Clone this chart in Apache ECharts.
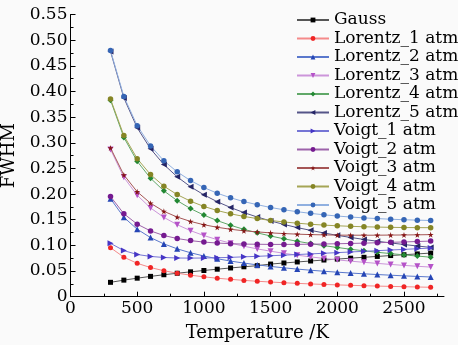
<!DOCTYPE html>
<html>
<head>
<meta charset="utf-8">
<script src="https://cdn.jsdelivr.net/npm/echarts@6/dist/echarts.min.js"></script>
<style>
html,body{margin:0;padding:0;background:#fafafa;}
#c{width:458px;height:345px;}
</style>
</head>
<body>
<div id="c"></div>
<script>
var temperatures = [300,400,500,600,700,800,900,1000,1100,1200,1300,1400,1500,1600,1700,1800,1900,2000,2100,2200,2300,2400,2500,2600,2700];

var gauss = [0.028,0.0323,0.0361,0.0396,0.0428,0.0457,0.0485,0.0511,0.0536,0.056,0.0583,0.0605,0.0636,0.0657,0.0677,0.0696,0.0715,0.0733,0.0751,0.0768,0.0785,0.0802,0.0818,0.0834,0.085];
var lorentz1 = [0.0955,0.077,0.0651,0.0568,0.0506,0.0458,0.0419,0.0387,0.036,0.0338,0.0318,0.0301,0.0286,0.0272,0.026,0.0249,0.0239,0.023,0.0222,0.0214,0.0207,0.0201,0.0195,0.0189,0.0184];
var lorentz2 = [0.191,0.1548,0.1315,0.1152,0.1029,0.0933,0.0856,0.0793,0.074,0.0694,0.0655,0.062,0.059,0.0563,0.0538,0.0516,0.0496,0.0478,0.0461,0.0446,0.0432,0.0419,0.0406,0.0395,0.0384];
var lorentz3 = [0.287,0.2326,0.1977,0.173,0.1546,0.1403,0.1287,0.1192,0.1112,0.1043,0.0984,0.0932,0.0887,0.0846,0.0809,0.0776,0.0746,0.0718,0.0693,0.067,0.0649,0.0629,0.061,0.0593,0.0577];
var lorentz4 = [0.383,0.3105,0.2638,0.2309,0.2063,0.1872,0.1717,0.159,0.1483,0.1392,0.1313,0.1244,0.1183,0.1128,0.108,0.1036,0.0995,0.0959,0.0925,0.0894,0.0866,0.084,0.0815,0.0792,0.077];
var lorentz5 = [0.478,0.3875,0.3292,0.2882,0.2575,0.2336,0.2143,0.1985,0.1851,0.1738,0.1639,0.1553,0.1477,0.1408,0.1347,0.1293,0.1242,0.1196,0.1155,0.1116,0.1081,0.1048,0.1017,0.0988,0.0961];
var voigt1 = [0.104,0.0898,0.0823,0.0785,0.0764,0.0754,0.0752,0.0754,0.0759,0.0767,0.0777,0.0787,0.0798,0.081,0.0822,0.0834,0.0847,0.0859,0.0872,0.0884,0.0897,0.091,0.0922,0.0935,0.0948];
var voigt2 = [0.1953,0.1617,0.1414,0.1282,0.1192,0.1134,0.1093,0.1064,0.1046,0.1033,0.1025,0.1022,0.1019,0.1019,0.102,0.1023,0.1027,0.1032,0.1038,0.1044,0.1052,0.106,0.1067,0.1076,0.1084];
var voigt3 = [0.2899,0.2373,0.2045,0.1822,0.1664,0.1552,0.1467,0.1402,0.1353,0.1314,0.1284,0.1263,0.1244,0.123,0.1219,0.121,0.1205,0.12,0.1199,0.1198,0.1199,0.1201,0.1203,0.1206,0.121];
var voigt4 = [0.3852,0.3141,0.269,0.238,0.2154,0.199,0.1861,0.1759,0.168,0.1616,0.1564,0.1522,0.1486,0.1456,0.1433,0.1412,0.1395,0.1382,0.1372,0.1363,0.1357,0.1352,0.1348,0.1346,0.1345];
var voigt5 = [0.4798,0.3904,0.3334,0.2939,0.2649,0.2433,0.2263,0.2127,0.2017,0.1928,0.1853,0.1793,0.1739,0.1694,0.1656,0.1624,0.1596,0.1572,0.1553,0.1536,0.1522,0.151,0.15,0.1492,0.1485];

var seriesNames = ['Gauss','Lorentz_1 atm','Lorentz_2 atm','Lorentz_3 atm','Lorentz_4 atm','Lorentz_5 atm','Voigt_1 atm','Voigt_2 atm','Voigt_3 atm','Voigt_4 atm','Voigt_5 atm'];
var xMajorTicks = [0,500,1000,1500,2000,2500];
var xMinorTicks = [250,750,1250,1750,2250,2750];

var STAR = 'path://M50,0 L61,35 L98,35 L68,57 L79,91 L50,70 L21,91 L32,57 L2,35 L39,35 Z';
var styles = [
  {data: gauss,    mk:'#000000', ln:'#555555', sym:'rect', rot:0, size:5},
  {data: lorentz1, mk:'#f02525', ln:'#f58a8a', sym:'circle', rot:0, size:5},
  {data: lorentz2, mk:'#2545b5', ln:'#5a78cc', sym:'triangle', rot:0, size:6},
  {data: lorentz3, mk:'#b552c8', ln:'#cc95da', sym:'triangle', rot:180, size:6},
  {data: lorentz4, mk:'#228833', ln:'#60a868', sym:'diamond', rot:0, size:6},
  {data: lorentz5, mk:'#252566', ln:'#555588', sym:'triangle', rot:90, size:6},
  {data: voigt1,   mk:'#4535c5', ln:'#7575d5', sym:'triangle', rot:-90, size:6},
  {data: voigt2,   mk:'#751a90', ln:'#9d62aa', sym:'circle', rot:0, size:5.5},
  {data: voigt3,   mk:'#851515', ln:'#a55555', sym:STAR, rot:0, size:6},
  {data: voigt4,   mk:'#858525', ln:'#a5a555', sym:'circle', rot:0, size:5.5},
  {data: voigt5,   mk:'#3565b5', ln:'#90b0e0', sym:'circle', rot:0, size:5.5}
];

var FONT = 'DejaVu Serif';
var series = styles.map(function(s, i){
  return {
    name: seriesNames[i],
    type: 'line',
    xAxisIndex: 0,
    data: temperatures.map(function(t, k){ return [t, s.data[k]]; }),
    symbol: s.sym,
    symbolRotate: s.rot,
    symbolSize: s.size,
    showAllSymbol: true,
    lineStyle: {color: s.ln, width: 1},
    itemStyle: {color: s.mk},
    emphasis: {disabled: true},
    animation: false
  };
});

var chart = echarts.init(document.getElementById('c'), null, {renderer: 'canvas'});
chart.setOption({
  backgroundColor: '#fafafa',
  animation: false,
  grid: {left: 70.5, right: 14, top: 14.5, bottom: 48.3, containLabel: false, outerBoundsMode: 'none'},
  legend: {
    data: seriesNames,
    orient: 'vertical',
    left: 291,
    top: 6,
    itemWidth: 32,
    itemHeight: 6,
    itemGap: 0.5,
    textStyle: {fontFamily: FONT, fontSize: 17, color: '#000', lineHeight: 18},
    selectedMode: false
  },
  xAxis: [{
    type: 'value', min: 0, max: 2800, interval: 500,
    name: 'Temperature /K', nameLocation: 'middle', nameGap: 28,
    nameTextStyle: {fontFamily: FONT, fontSize: 18, color: '#000'},
    axisLine: {show: true, lineStyle: {color: '#000', width: 1}},
    axisTick: {show: true, inside: true, length: 5, customValues: xMajorTicks, lineStyle: {color: '#000'}},
    axisLabel: {customValues: xMajorTicks, fontFamily: FONT, fontSize: 17, color: '#000', margin: 3,
      formatter: function(v){ return String(v); }},
    splitLine: {show: false}
  }, {
    type: 'value', min: 0, max: 2800, position: 'bottom',
    axisLine: {show: false},
    axisTick: {show: true, inside: true, length: 3, customValues: xMinorTicks, lineStyle: {color: '#000'}},
    axisLabel: {show: false},
    splitLine: {show: false}
  }],
  yAxis: {
    type: 'value', min: 0, max: 0.55, interval: 0.05,
    name: 'FWHM', nameLocation: 'middle', nameGap: 42,
    nameTextStyle: {fontFamily: FONT, fontSize: 18, color: '#000'},
    axisLine: {show: true, lineStyle: {color: '#000', width: 1}},
    axisTick: {show: true, inside: true, length: 5, lineStyle: {color: '#000'}},
    minorTick: {show: true, splitNumber: 2, length: 3, lineStyle: {color: '#000'}},
    axisLabel: {fontFamily: FONT, fontSize: 17, color: '#000', margin: 3,
      formatter: function(v){ return v === 0 ? '0' : v.toFixed(2); }},
    splitLine: {show: false},
    minorSplitLine: {show: false}
  },
  series: series
});
</script>
</body>
</html>
